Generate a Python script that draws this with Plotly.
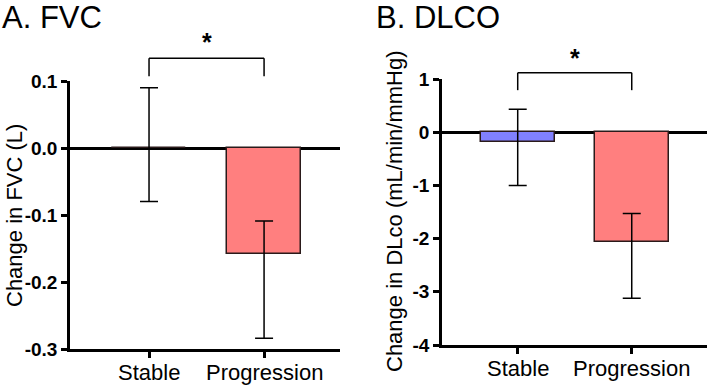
import plotly.graph_objects as go

# ---------------- data ----------------
categories = ["Stable", "Progression"]

fvc_mean = [0.0, -0.158]
fvc_hi = [0.09, -0.109]
fvc_lo = [-0.08, -0.284]

dlco_mean = [-0.176, -2.06]
dlco_hi = [0.43, -1.53]
dlco_lo = [-1.0, -3.12]

fvc_ticks = [0.1, 0.0, -0.1, -0.2, -0.3]
fvc_ticktext = ["0.1", "0.0", "-0.1", "-0.2", "-0.3"]
dlco_ticks = [1, 0, -1, -2, -3, -4]
dlco_ticktext = ["1", "0", "-1", "-2", "-3", "-4"]

# significance bracket (data units): leg bottom, top, star height
fvc_bracket = [0.107, 0.134, 0.158]
dlco_bracket = [0.79, 1.118, 1.39]

bar_colors_fvc = ["#8080FF", "#FF7F7F"]
bar_colors_dlco = ["#8080FF", "#FF7F7F"]

FONT = "Liberation Sans, Arial, Helvetica, sans-serif"

xr_a = [-0.687, 1.66]
yr_a = [-0.3, 0.1]
xr_b = [-0.664, 1.66]
yr_b = [-4, 1]

fig = go.Figure()


def add_bars(mean, hi, lo, colors, xa, ya):
    fig.add_trace(go.Bar(
        x=categories, y=mean, xaxis=xa, yaxis=ya,
        width=0.65,
        marker=dict(color=colors, line=dict(color="#2a1a1a", width=1.5)),
        error_y=dict(type="data", symmetric=False,
                     array=[h - m for h, m in zip(hi, mean)],
                     arrayminus=[m - l for m, l in zip(mean, lo)],
                     color="black", thickness=1.5, width=9),
        showlegend=False, hoverinfo="skip",
    ))


add_bars(fvc_mean, fvc_hi, fvc_lo, bar_colors_fvc, "x", "y")
add_bars(dlco_mean, dlco_hi, dlco_lo, bar_colors_dlco, "x2", "y2")


def frac(v, r):
    return (v - r[0]) / (r[1] - r[0])


def bracket(xr, yr, br, xref, yref):
    x0, x1 = frac(0, xr), frac(1, xr)
    yl, yt, ys = frac(br[0], yr), frac(br[1], yr), frac(br[2], yr)
    line = dict(color="black", width=1.5)
    fig.add_shape(type="line", xref=xref, yref=yref, x0=x0, x1=x1, y0=yt, y1=yt, line=line)
    fig.add_shape(type="line", xref=xref, yref=yref, x0=x0, x1=x0, y0=yl, y1=yt, line=line)
    fig.add_shape(type="line", xref=xref, yref=yref, x0=x1, x1=x1, y0=yl, y1=yt, line=line)
    fig.add_annotation(xref=xref, yref=yref, x=(x0 + x1) / 2, y=ys, text="<b>*</b>",
                       showarrow=False, font=dict(size=25, color="black", family=FONT),
                       xanchor="center", yanchor="middle")


bracket(xr_a, yr_a, fvc_bracket, "x domain", "y domain")
bracket(xr_b, yr_b, dlco_bracket, "x2 domain", "y2 domain")


def category_labels(xref, yref, xr):
    for i, c in enumerate(categories):
        fig.add_annotation(xref=xref, yref=yref, x=frac(i, xr), y=0, yshift=-23,
                           text=c, showarrow=False, xanchor="center", yanchor="middle",
                           font=dict(size=22, family=FONT, color="black"))


category_labels("x domain", "y domain", xr_a)
category_labels("x2 domain", "y2 domain", xr_b)

axis_common = dict(showline=True, linewidth=2.5, linecolor="black", ticks="outside",
                   ticklen=6, tickwidth=2.5, tickcolor="black", showgrid=False,
                   automargin=False)

fig.update_layout(
    width=709, height=385,
    margin=dict(l=0, r=0, t=0, b=0, autoexpand=False),
    paper_bgcolor="white", plot_bgcolor="white",
    bargap=0,
    xaxis=dict(domain=[70 / 709, 340 / 709], range=xr_a, anchor="y", zeroline=False,
               showticklabels=False, **axis_common),
    yaxis=dict(domain=[1 - 349 / 385, 1 - 81 / 385], range=yr_a, anchor="x",
               tickvals=fvc_ticks, ticktext=fvc_ticktext,
               zeroline=True, zerolinewidth=2.5, zerolinecolor="black",
               tickfont=dict(size=19, family=FONT, color="black", weight="bold"), **axis_common),
    xaxis2=dict(domain=[442 / 709, 707 / 709], range=xr_b, anchor="y2", zeroline=False,
                showticklabels=False, **axis_common),
    yaxis2=dict(domain=[1 - 345 / 385, 1 - 79 / 385], range=yr_b, anchor="x2",
                tickvals=dlco_ticks, ticktext=dlco_ticktext,
                zeroline=True, zerolinewidth=2.5, zerolinecolor="black",
                tickfont=dict(size=19, family=FONT, color="black", weight="bold"), **axis_common),
)

# panel titles
fig.add_annotation(xref="paper", yref="paper", x=0.0, y=1.0, yshift=2, xanchor="left",
                   yanchor="top", text="A. FVC", showarrow=False,
                   font=dict(size=31, family=FONT, color="black"))
fig.add_annotation(xref="paper", yref="paper", x=374 / 709, y=1.0, yshift=2, xanchor="left",
                   yanchor="top", text="B. DLCO", showarrow=False,
                   font=dict(size=31, family=FONT, color="black"))

# y-axis titles
fig.add_annotation(xref="paper", yref="paper", x=14 / 709, y=1 - 216 / 385, textangle=-90,
                   text="Change in FVC (L)", showarrow=False, xanchor="center", yanchor="middle",
                   font=dict(size=22, family=FONT, color="black"))
fig.add_annotation(xref="paper", yref="paper", x=395 / 709, y=1 - 211 / 385, textangle=-90,
                   text="Change in DLco (mL/min/mmHg)", showarrow=False, xanchor="center",
                   yanchor="middle", font=dict(size=22, family=FONT, color="black"))

fig.write_html("out.html", config={"displayModeBar": False},
               post_script="document.body.style.margin='0';document.body.style.padding='0';")
